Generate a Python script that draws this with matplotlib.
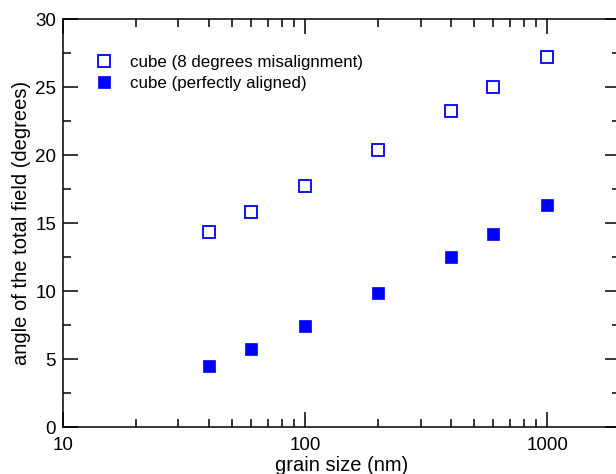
import matplotlib
matplotlib.use("Agg")
import matplotlib.pyplot as plt
from matplotlib.ticker import FixedLocator, NullFormatter

plt.rcParams['font.family'] = ['Liberation Sans', 'DejaVu Sans']

grain_size = [40, 60, 100, 200, 400, 600, 1000]
misaligned = [14.35, 15.8, 17.7, 20.4, 23.2, 25.0, 27.2]
aligned = [4.5, 5.7, 7.4, 9.85, 12.5, 14.2, 16.35]
x_major = [10, 100, 1000]
x_minor = [20, 30, 40, 50, 60, 70, 80, 90, 200, 300, 400, 500, 600, 700, 800, 900]
x_labels = ['10', '100', '1000']
y_major = [0, 5, 10, 15, 20, 25, 30]
y_minor = [2.5, 7.5, 12.5, 17.5, 22.5, 27.5]

fig = plt.figure(figsize=(6.16, 4.74), dpi=100)
ax = fig.add_axes([63/616, 47/474, (620-63)/616, (427-19)/474])

ax.plot(grain_size, misaligned, linestyle='none', marker='s', markersize=8.6,
        markerfacecolor='white', markeredgecolor='#0000ff', markeredgewidth=1.3,
        label='cube (8 degrees misalignment)')
ax.plot(grain_size, aligned, linestyle='none', marker='s', markersize=9.2,
        markerfacecolor='#0000ff', markeredgecolor='#0000ff', markeredgewidth=0.5,
        label='cube (perfectly aligned)')

ax.set_xscale('log')
ax.set_xlim(10, 2000)
ax.set_ylim(0, 30)
ax.xaxis.set_major_locator(FixedLocator(x_major))
ax.set_xticklabels(x_labels)
ax.xaxis.set_minor_locator(FixedLocator(x_minor))
ax.xaxis.set_minor_formatter(NullFormatter())
ax.yaxis.set_major_locator(FixedLocator(y_major))
ax.yaxis.set_minor_locator(FixedLocator(y_minor))

for s in ax.spines.values():
    s.set_linewidth(1.1)
ax.tick_params(which='both', direction='in', top=True, right=True, width=1.1,
               labelsize=13.5, colors='black')
ax.tick_params(which='major', length=10.5)
ax.tick_params(which='minor', length=5.5)
ax.tick_params(axis='y', which='major', pad=5)
ax.tick_params(axis='x', which='major', pad=7)

ax.set_xlabel('grain size (nm)', fontsize=14.5, labelpad=1.5)
ax.set_ylabel('angle of the total field (degrees)', fontsize=14.5, labelpad=3)

leg = ax.legend(loc='upper left', bbox_to_anchor=(0.059, 0.912), frameon=False,
                fontsize=12.2, handlelength=1.0, handletextpad=1.0,
                labelspacing=0.35, borderaxespad=0, borderpad=0)

fig.savefig('out.png', dpi=100)
